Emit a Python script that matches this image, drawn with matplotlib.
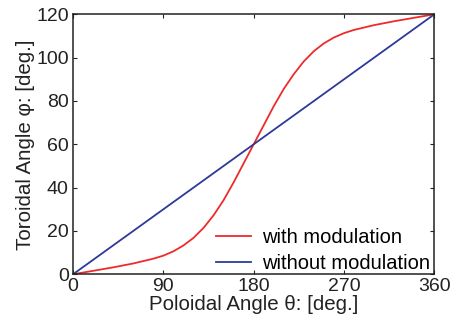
import matplotlib
matplotlib.use("Agg")
import matplotlib.pyplot as plt

# ── Data ───────────────────────────────────────────────────────────────────
theta = [0, 10, 20, 30, 40, 50, 60, 70, 80, 90, 100, 110, 120, 130, 140, 150,
         160, 170, 180, 190, 200, 210, 220, 230, 240, 250, 260, 270, 280, 290,
         300, 310, 320, 330, 340, 350, 360]
phi_mod = [0, 0.8, 1.6, 2.4, 3.2, 4.1, 5.0, 6.1, 7.2, 8.6, 10.6, 13.3, 16.8,
           21.4, 27.2, 34.2, 42.4, 51.2, 60, 68.8, 77.6, 85.6, 92.4, 98.3,
           103.0, 106.6, 109.3, 111.3, 112.8, 113.9, 115.0, 115.9, 116.8,
           117.6, 118.4, 119.2, 120]
theta_lin = [0, 360]
phi_lin = [0, 120]

xticks = [0, 90, 180, 270, 360]
yticks = [0, 20, 40, 60, 80, 100, 120]

RED = "#ee2a2a"
BLUE = "#2b3a98"
INK = "#222222"

plt.rcParams.update({"font.family": ["Liberation Sans", "DejaVu Sans"]})

fig = plt.figure(figsize=(4.52, 3.24), dpi=100)
ax = fig.add_axes([0.1615, 0.1534, 0.7995, 0.8025])

ax.plot(theta, phi_mod, color=RED, linewidth=1.3, label="with modulation")
ax.plot(theta_lin, phi_lin, color=BLUE, linewidth=1.3, label="without modulation")

ax.set_xlim(0, 360)
ax.set_ylim(0, 120)
ax.set_xticks(xticks)
ax.set_yticks(yticks)
ax.tick_params(direction="in", length=3, width=0.8, top=True, right=True,
               labelsize=14, colors=INK, pad=3)
for s in ax.spines.values():
    s.set_linewidth(1.1)
    s.set_color(INK)

ax.set_xlabel("Poloidal Angle θ: [deg.]", fontsize=14.8, labelpad=0, color=INK)
ax.set_ylabel("Toroidal Angle φ: [deg.]", fontsize=14.8, labelpad=1, color=INK)

ax.legend(loc="lower right", bbox_to_anchor=(1.0, -0.01), frameon=False,
          fontsize=14.5, handlelength=1.75, handletextpad=0.55,
          borderpad=0.2, borderaxespad=0.0, labelspacing=0.35)

fig.savefig("out.png", dpi=100)
